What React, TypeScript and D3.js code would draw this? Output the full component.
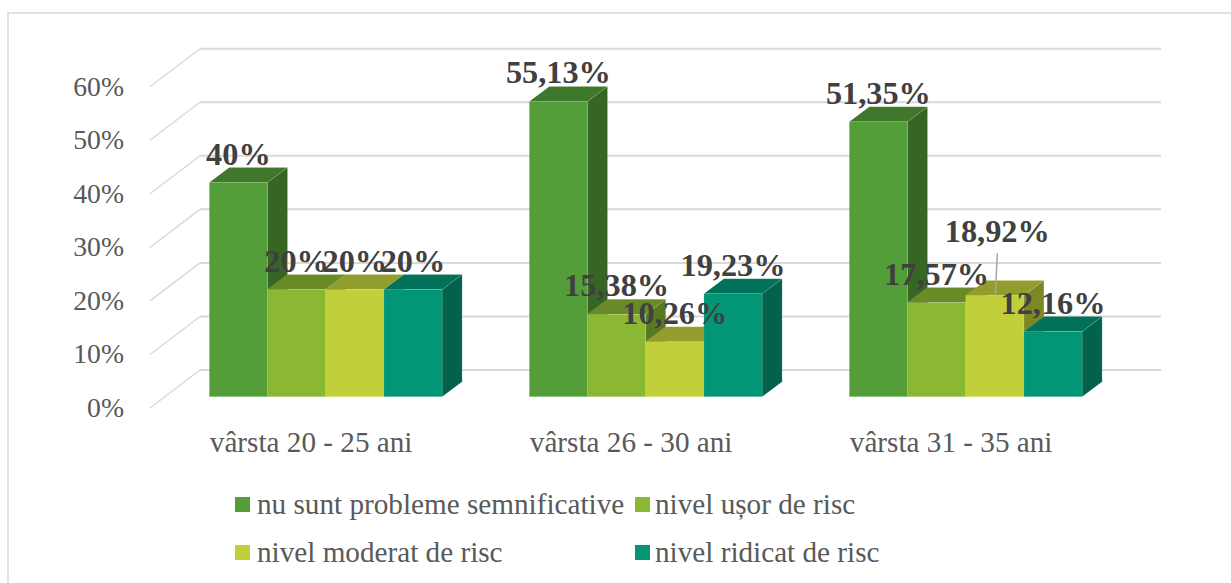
import React, { useEffect, useRef } from 'react';
import * as d3 from 'd3';

const categories = ['vârsta 20 - 25 ani', 'vârsta 26 - 30 ani', 'vârsta 31 - 35 ani'];
const seriesNames = ['nu sunt probleme semnificative', 'nivel ușor de risc', 'nivel moderat de risc', 'nivel ridicat de risc'];
const noProblems = [40, 55.13, 51.35];
const lowRisk = [20, 15.38, 17.57];
const moderateRisk = [20, 10.26, 18.92];
const highRisk = [20, 19.23, 12.16];
const seriesValues = [noProblems, lowRisk, moderateRisk, highRisk];
const yTicks = [0, 10, 20, 30, 40, 50, 60];

const frontColors = ['#549e39', '#8ab833', '#c0cf3a', '#029676'];
const topColors = ['#3f772b', '#688b27', '#919d2c', '#027159'];
const sideColors = ['#376624', '#5a7821', '#7d8726', '#02624d'];

const SERIF = '"Liberation Serif", "Times New Roman", serif';

const App = () => {
  const svgRef = useRef<SVGSVGElement>(null);

  useEffect(() => {
    const height = 583;
    // floor depth of the 3D walls, and the depth of the bars themselves
    const wall = { dx: 50, dy: -38 };
    const depth = { dx: 20, dy: -15 };
    const barLift = 11.3;

    const svg = d3.select(svgRef.current);
    svg.selectAll('*').remove();

    const y = d3.scaleLinear().domain([0, 60]).range([408, 86.7]);
    const x0 = d3.scaleBand<number>()
      .domain(d3.range(categories.length))
      .range([165.7, 1125.7])
      .paddingInner(87.2 / 320)
      .paddingOuter(87.2 / 640);
    const x1 = d3.scaleBand<number>()
      .domain(d3.range(seriesNames.length))
      .range([0, x0.bandwidth()]);

    // outer frame, runs off the right and bottom of the picture
    svg.append('path')
      .attr('d', `M8,${height} V13 H1231`)
      .attr('fill', 'none')
      .attr('stroke', '#d9d9d9')
      .attr('stroke-width', 1.5);

    const grid = svg.append('g').attr('fill', 'none').attr('stroke', '#d9d9d9');
    grid.selectAll('path.diag')
      .data(yTicks)
      .join('path')
      .attr('class', 'diag')
      .attr('stroke-width', 1.4)
      .attr('d', d => `M150,${y(d)} L${150 + wall.dx},${y(d) + wall.dy}`);
    grid.selectAll('line.back')
      .data(yTicks)
      .join('line')
      .attr('class', 'back')
      .attr('stroke-width', 2)
      .attr('x1', 150 + wall.dx)
      .attr('x2', 1161)
      .attr('y1', d => y(d) + wall.dy)
      .attr('y2', d => y(d) + wall.dy);

    svg.append('g')
      .selectAll('text')
      .data(yTicks)
      .join('text')
      .attr('x', 124)
      .attr('y', d => y(d) + 9)
      .attr('text-anchor', 'end')
      .attr('font-family', SERIF)
      .attr('font-size', 27.7)
      .attr('fill', '#595959')
      .text(d => `${d}%`);

    const bars = svg.append('g');
    categories.forEach((_, c) => {
      seriesValues.forEach((vals, s) => {
        const left = x0(c)! + x1(s)!;
        const right = left + x1.bandwidth();
        const top = y(vals[c]) - barLift;
        const bottom = y(0) - barLift;
        const g = bars.append('g').attr('stroke', '#ffffff').attr('stroke-opacity', 0.12).attr('stroke-width', 0.8);
        g.append('path')
          .attr('fill', sideColors[s])
          .attr('d', `M${right},${top} l${depth.dx},${depth.dy} V${bottom + depth.dy} L${right},${bottom} Z`);
        g.append('path')
          .attr('fill', topColors[s])
          .attr('d', `M${left},${top} l${depth.dx},${depth.dy} H${right + depth.dx} L${right},${top} Z`);
        g.append('rect')
          .attr('x', left)
          .attr('y', top)
          .attr('width', x1.bandwidth())
          .attr('height', bottom - top)
          .attr('fill', frontColors[s]);
      });
    });

    // the 18,92% label was dragged up in the original, with a leader line
    const moved = { c: 2, s: 2, dx: 2.5, dy: -35 };
    const barMid = x0(moved.c)! + x1(moved.s)! + x1.bandwidth() / 2;
    const barTop = y(seriesValues[moved.s][moved.c]) - barLift;
    svg.append('line')
      .attr('x1', barMid + moved.dx)
      .attr('y1', barTop - 42)
      .attr('x2', barMid + 0.5)
      .attr('y2', barTop)
      .attr('stroke', '#a6a6a6')
      .attr('stroke-width', 1.5);

    const labels = svg.append('g')
      .attr('font-family', SERIF)
      .attr('font-size', 32.3)
      .attr('font-weight', 'bold')
      .attr('fill', '#404040')
      .attr('text-anchor', 'middle');
    categories.forEach((_, c) => {
      seriesValues.forEach((vals, s) => {
        const isMoved = c === moved.c && s === moved.s;
        labels.append('text')
          .attr('x', x0(c)! + x1(s)! + x1.bandwidth() / 2 + (isMoved ? moved.dx : 0))
          .attr('y', y(vals[c]) - barLift - 18 + (isMoved ? moved.dy : 0))
          .text(`${vals[c]}%`.replace('.', ','));
      });
    });

    svg.append('g')
      .selectAll('text')
      .data(categories)
      .join('text')
      .attr('x', (_, i) => x0(i)! + 0.5)
      .attr('y', 452)
      .attr('font-family', SERIF)
      .attr('font-size', 29.2)
      .attr('fill', '#595959')
      .text(d => d);

    // legend: two rows, two columns
    const legendX = [235, 635];
    const legendY = [497, 545];
    const legend = svg.append('g');
    seriesNames.forEach((name, i) => {
      const lx = legendX[i % 2];
      const ly = legendY[Math.floor(i / 2)];
      legend.append('rect')
        .attr('x', lx)
        .attr('y', ly)
        .attr('width', 15)
        .attr('height', 15)
        .attr('fill', frontColors[i]);
      legend.append('text')
        .attr('x', lx + (i % 2 ? 20 : 22))
        .attr('y', ly + 17)
        .attr('font-family', SERIF)
        .attr('font-size', 29.2)
        .attr('fill', '#595959')
        .text(name);
    });
  }, []);

  return (
    <svg
      ref={svgRef}
      width={1231}
      height={583}
      viewBox="0 0 1231 583"
      style={{ position: 'absolute', left: 0, top: 0, background: 'white', display: 'block' }}
    />
  );
};

export default App;
